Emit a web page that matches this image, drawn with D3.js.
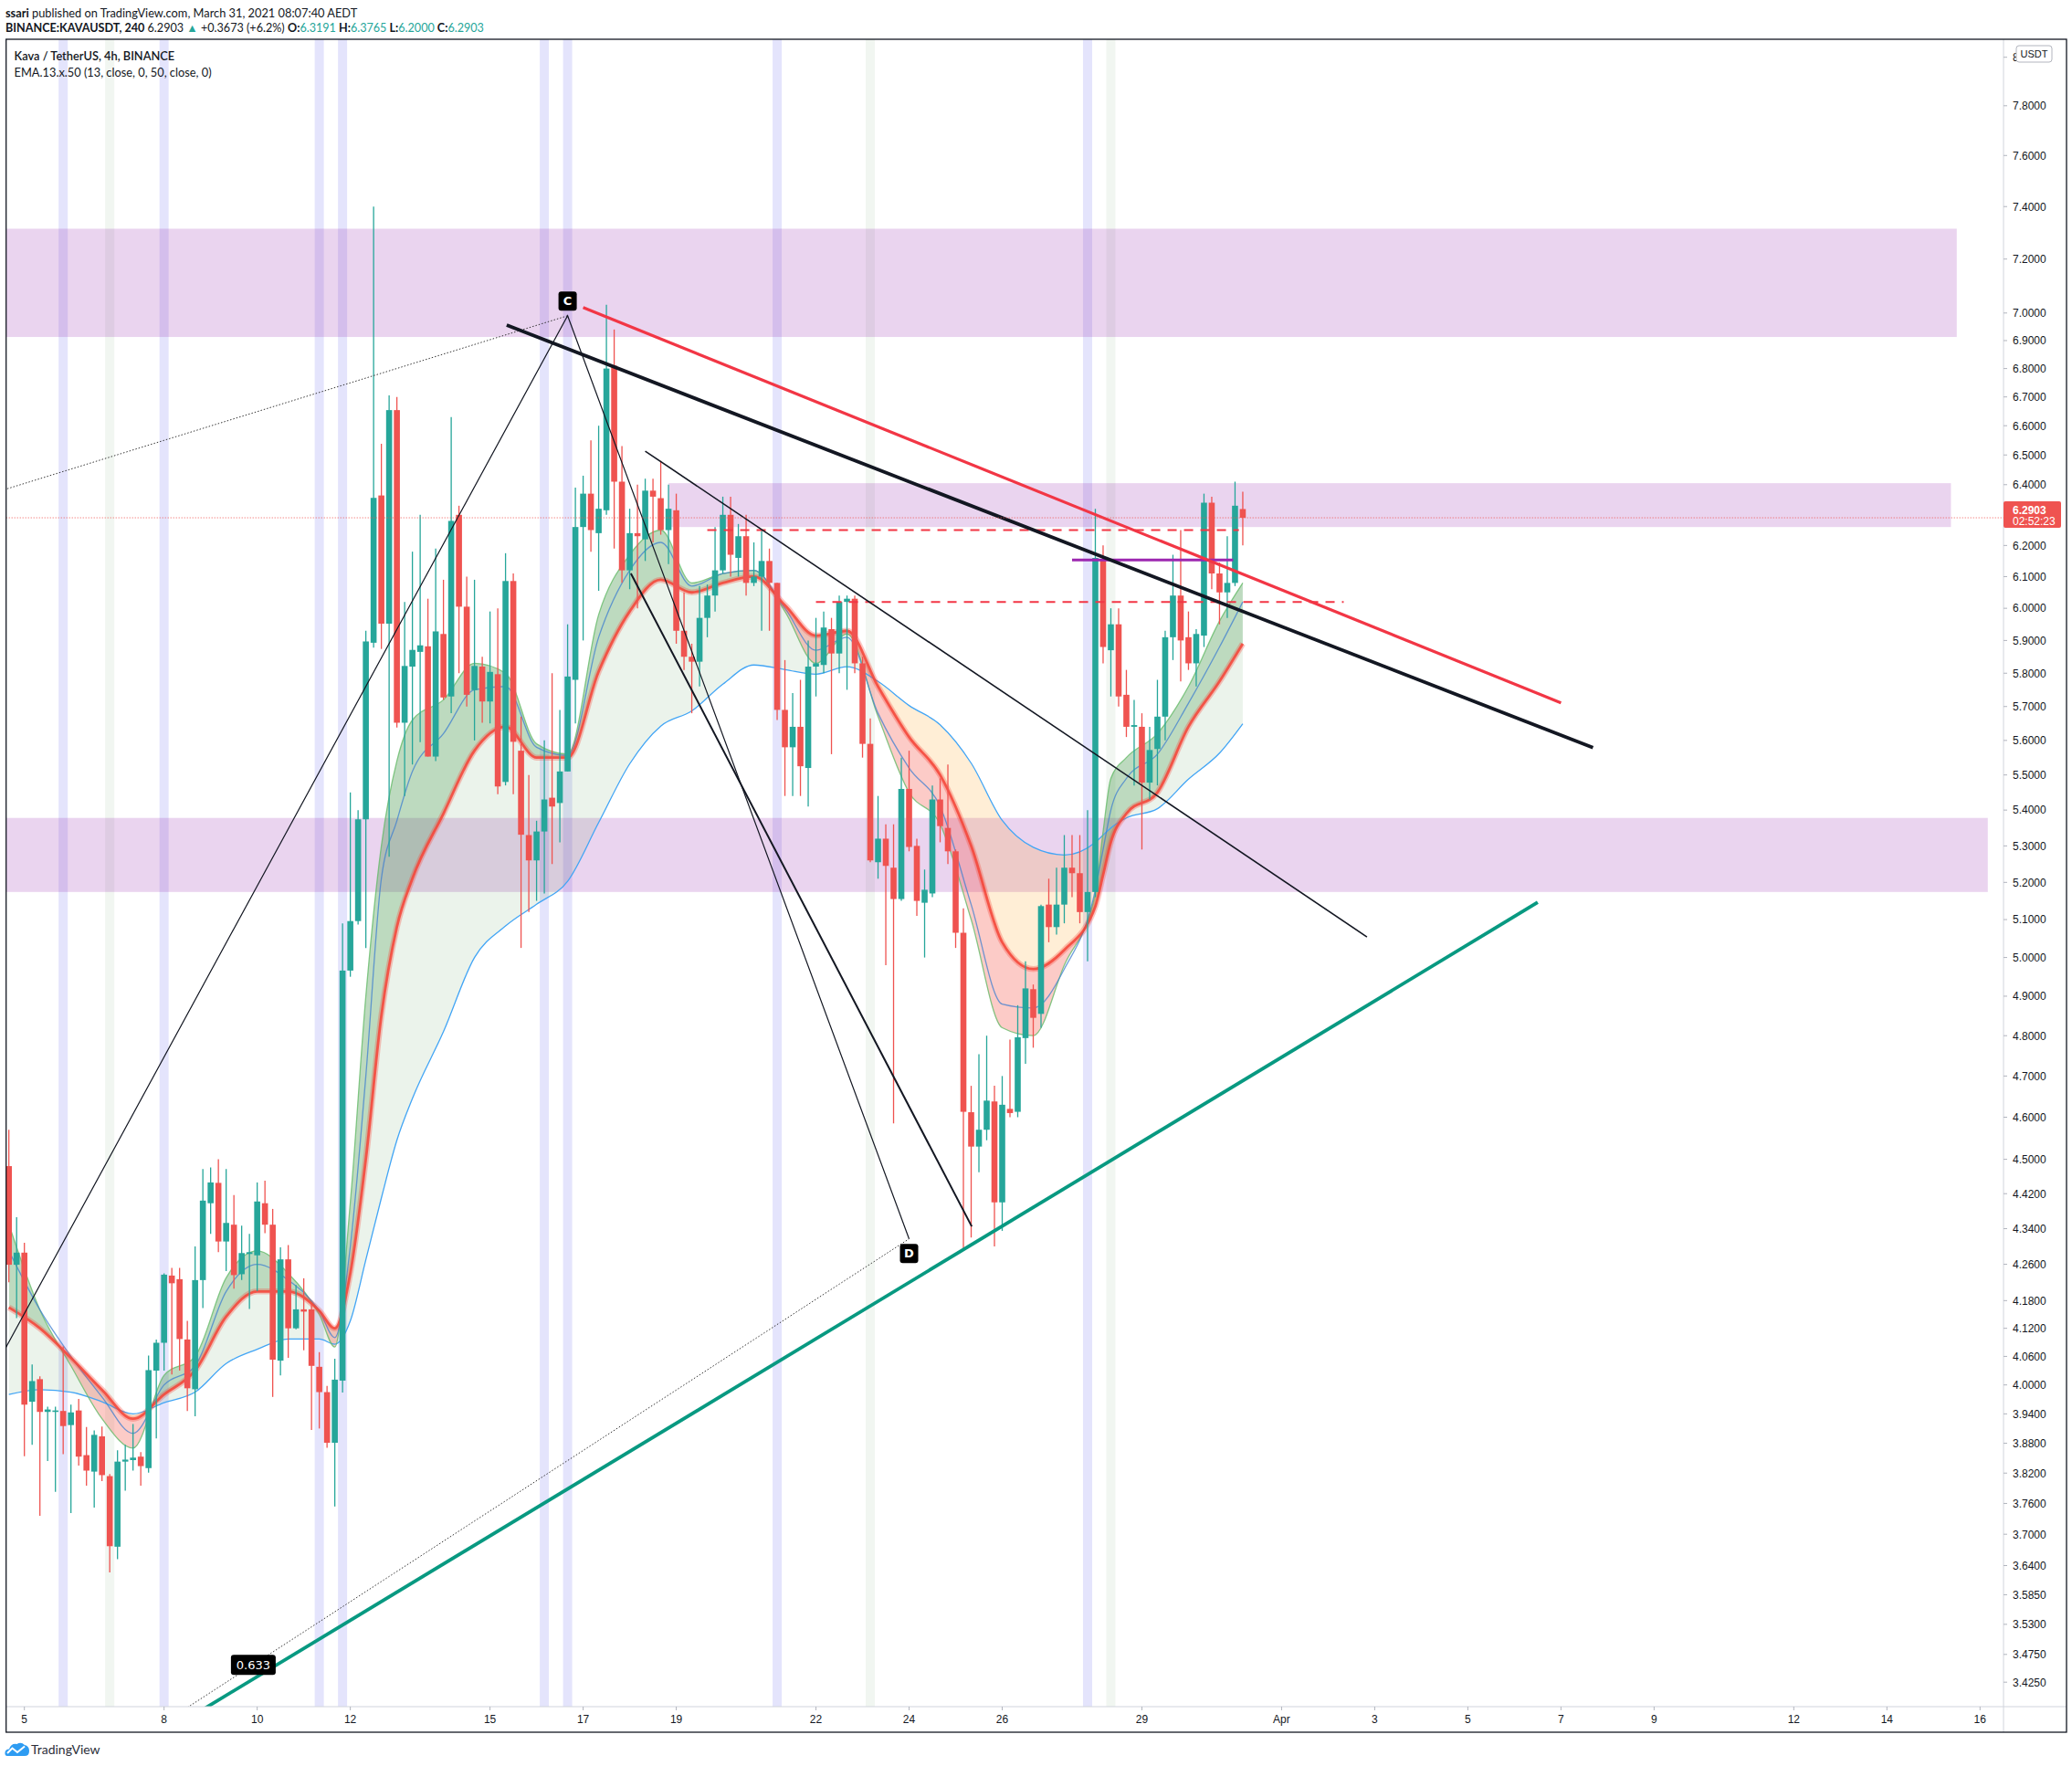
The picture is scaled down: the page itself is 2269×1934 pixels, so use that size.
<!DOCTYPE html>
<html>
<head>
<meta charset="utf-8">
<script src="https://cdn.jsdelivr.net/npm/d3@7"></script>
<style>
  body { margin: 0; background: #fff; }
  svg { display: block; }
</style>
</head>
<body>
<script>
const W = 2269, H = 1934

const T = (m, d, h = 0, mi = 0) => new Date(Date.UTC(2021, m - 1, d, h, mi))
const firstBar = T(3, 4, 16)
const barTime = i => new Date(firstBar.getTime() + i * 4 * 3600e3)

// 4h candles, BINANCE:KAVAUSDT, first bar Mar 4 16:00
const opens = [4.484,4.259,4.286,3.965,4.012,3.944,3.944,3.946,3.917,3.947,
  3.856,3.823,3.894,3.814,3.676,3.843,3.846,3.853,3.830,4.030,
  4.089,4.235,4.227,4.096,3.991,4.225,4.398,4.445,4.311,4.349,
  4.238,4.283,4.280,4.398,4.349,4.051,4.271,4.120,4.161,4.161,
  4.038,3.985,3.881,4.009,4.966,5.096,5.374,5.893,6.364,5.952,
  6.654,5.652,5.820,5.865,5.882,5.553,5.920,5.730,6.300,6.005,
  5.749,5.820,5.715,5.797,5.480,6.086,5.570,5.330,5.260,5.340,
  5.435,5.420,5.510,5.780,6.260,6.370,6.240,6.315,6.810,6.410,
  6.120,6.240,6.220,6.380,6.355,6.250,6.315,5.930,5.850,5.835,
  5.970,6.040,6.120,6.300,6.160,6.230,6.080,6.100,6.150,6.080,
  5.690,5.580,5.640,5.520,5.820,5.825,5.935,5.860,6.020,6.030,
  5.830,5.590,5.255,5.320,5.240,5.155,5.460,5.300,5.145,5.170,
  5.430,5.350,5.285,5.065,4.612,4.530,4.570,4.638,4.400,4.620,
  4.613,4.794,4.918,4.855,5.140,5.080,5.140,5.240,5.225,5.120,
  5.174,6.155,5.870,5.950,5.735,5.640,5.640,5.478,5.575,5.670,
  5.910,6.040,5.910,5.830,5.915,6.340,6.110,6.050,6.080,6.3191]
const highs = [4.57,4.366,4.308,4.043,4.018,3.955,3.955,4.081,3.959,3.971,
  3.913,3.906,3.914,3.818,3.866,3.877,3.919,3.862,4.062,4.096,
  4.240,4.252,4.252,4.136,4.300,4.477,4.481,4.500,4.477,4.417,
  4.347,4.328,4.446,4.450,4.385,4.298,4.303,4.214,4.229,4.172,
  4.069,3.998,4.055,5.090,5.450,5.400,5.930,7.400,6.538,6.705,
  6.700,6.020,6.180,6.300,6.030,6.190,6.090,6.630,6.330,6.100,
  6.090,5.850,5.990,6.000,6.175,6.110,5.670,5.500,5.370,5.600,
  5.800,5.690,5.950,6.390,6.430,6.550,6.600,7.030,6.940,6.530,
  6.320,6.400,6.420,6.420,6.480,6.400,6.370,6.050,5.890,6.070,
  6.075,6.260,6.360,6.360,6.270,6.300,6.210,6.250,6.190,6.080,
  5.840,5.740,5.780,5.900,5.970,5.990,5.970,6.040,6.040,6.040,
  5.850,5.665,5.440,5.360,5.360,5.550,5.570,5.320,5.235,5.470,
  5.490,5.530,5.290,5.130,4.676,4.754,4.800,4.676,4.700,4.790,
  4.877,4.990,4.930,5.140,5.210,5.240,5.330,5.330,5.330,5.400,
  6.320,6.200,6.000,6.000,5.810,5.720,5.680,5.640,5.780,5.930,
  6.170,6.250,5.990,5.935,6.370,6.360,6.145,6.230,6.410,6.3765]
const lows = [4.22,4.142,3.854,3.877,3.736,3.844,3.783,3.858,3.741,3.835,
  3.795,3.752,3.804,3.627,3.652,3.785,3.825,3.795,3.821,3.890,
  4.030,4.022,4.030,3.946,3.935,4.164,4.328,4.287,4.245,4.206,
  4.225,4.162,4.201,4.330,3.975,4.020,4.057,4.118,4.073,3.907,
  3.910,3.871,3.754,3.984,4.950,5.087,5.025,5.878,5.874,5.270,
  5.638,5.440,5.530,5.595,5.553,5.540,5.720,5.680,5.800,5.700,
  5.600,5.652,5.650,5.445,5.470,5.445,5.025,5.120,5.150,5.170,
  5.250,5.310,5.510,5.650,5.900,6.180,6.055,6.300,6.190,6.080,
  6.060,6.000,6.150,6.210,6.235,6.140,5.890,5.810,5.680,5.760,
  5.910,5.990,6.110,6.100,6.100,6.040,6.070,5.930,5.930,5.660,
  5.440,5.440,5.440,5.410,5.730,5.800,5.560,5.800,5.750,5.800,
  5.550,5.255,5.210,4.980,4.585,5.150,5.285,5.110,5.000,5.160,
  5.310,5.250,5.025,4.290,4.320,4.470,4.545,4.300,4.335,4.600,
  4.600,4.730,4.770,4.820,5.040,5.060,5.090,5.160,5.090,4.990,
  5.160,5.830,5.730,5.700,5.610,5.470,5.290,5.430,5.470,5.600,
  5.840,5.775,5.810,5.760,5.880,6.060,5.950,5.970,6.070,6.2000]
const closes = [4.259,4.286,3.959,4.008,3.944,3.949,3.947,3.915,3.943,3.853,
  3.825,3.897,3.816,3.677,3.843,3.847,3.851,3.834,4.031,4.089,
  4.237,4.218,4.097,3.993,4.225,4.404,4.446,4.311,4.353,4.236,
  4.285,4.287,4.402,4.349,4.053,4.271,4.120,4.161,4.156,4.040,
  3.985,3.881,4.011,4.966,5.096,5.374,5.897,6.356,5.952,6.654,
  5.652,5.822,5.871,5.885,5.553,5.928,5.727,6.280,6.005,5.735,
  5.822,5.715,5.804,5.467,6.086,5.596,5.331,5.260,5.340,5.430,
  5.410,5.510,5.790,6.260,6.370,6.250,6.320,6.800,6.410,6.120,
  6.240,6.230,6.380,6.360,6.250,6.320,5.930,5.850,5.835,5.970,
  6.040,6.120,6.300,6.170,6.230,6.080,6.100,6.150,6.080,5.690,
  5.580,5.640,5.525,5.820,5.830,5.940,5.860,6.020,6.030,5.830,
  5.590,5.260,5.320,5.245,5.155,5.460,5.297,5.150,5.180,5.430,
  5.355,5.285,5.065,4.613,4.530,4.570,4.640,4.400,4.630,4.610,
  4.796,4.920,4.845,5.136,5.080,5.140,5.240,5.225,5.120,5.174,
  6.160,5.880,5.950,5.730,5.640,5.645,5.478,5.572,5.670,5.910,
  6.040,5.900,5.830,5.920,6.340,6.110,6.050,6.080,6.330,6.2903]

// indicator lines at these bar indices
const emaIdx  = [0,4,8,12,16,20,24,28,32,36,40,42,44,46,48,50,52,56,60,64,68,72,76,80,84,88,92,96,100,104,108,112,116,120,124,128,132,136,140,141,142,144,148,152,156,159]
const emaFast = [4.35,4.16,4.04,3.93,3.87,4.02,4.06,4.23,4.29,4.24,4.15,4.08,4.40,4.90,5.30,5.54,5.66,5.72,5.83,5.80,5.59,5.56,5.98,6.17,6.25,6.08,6.11,6.12,5.99,5.83,5.92,5.67,5.45,5.36,5.10,4.82,4.80,4.98,5.17,5.34,5.49,5.55,5.62,5.76,5.96,6.08]
const emaMid  = [4.29,4.16,4.06,3.975,3.90,4.00,4.04,4.20,4.26,4.225,4.158,4.10,4.30,4.70,5.21,5.37,5.51,5.62,5.75,5.76,5.58,5.556,5.91,6.12,6.21,6.07,6.11,6.12,6.00,5.87,5.91,5.68,5.52,5.41,5.14,4.88,4.87,4.97,5.18,5.29,5.40,5.49,5.56,5.71,5.88,6.02]
const ema13   = [4.165,4.12,4.057,3.99,3.93,3.98,4.03,4.145,4.20,4.20,4.158,4.12,4.24,4.50,4.85,5.08,5.21,5.39,5.57,5.64,5.55,5.55,5.805,5.99,6.09,6.05,6.08,6.10,6.01,5.915,5.93,5.76,5.61,5.50,5.30,5.04,4.97,5.02,5.135,5.22,5.31,5.39,5.45,5.64,5.775,5.89]
const ema50   = [3.98,3.99,3.985,3.965,3.94,3.963,3.985,4.045,4.075,4.097,4.097,4.086,4.136,4.27,4.41,4.545,4.645,4.81,5.00,5.083,5.141,5.203,5.365,5.532,5.642,5.687,5.767,5.825,5.811,5.797,5.82,5.775,5.703,5.646,5.534,5.371,5.296,5.275,5.31,5.33,5.35,5.378,5.404,5.488,5.563,5.649]

// highlighted bars
const lavenderBars = [7, 20, 40, 43, 69, 72, 99, 139]
const greyBars = [13, 111, 142]

// supply / demand zones: [top, bottom, start, end]
const zoneTops    = [7.315, 6.405, 5.378]
const zoneBottoms = [6.913, 6.260, 5.174]
const zoneStarts  = [T(3, 4, 0), T(3, 18, 20), T(3, 4, 0)]
const zoneEnds    = [T(4, 15, 12), T(4, 15, 9), T(4, 16, 4)]

// drawings: [time, price]
const redTrend    = [[T(3, 17, 0), 7.02], [T(4, 7, 0), 5.711]]
const blackTrend  = [[T(3, 15, 8, 36), 6.956], [T(4, 7, 16, 30), 5.579]]
const thinTrend   = [[T(3, 18, 8), 6.513], [T(4, 2, 20), 5.054]]
const midTrend    = [[T(3, 18, 0, 36), 6.11], [T(3, 25, 8, 18), 4.345]]
const tealTrend   = [[T(3, 8, 12), 3.36], [T(4, 6, 12), 5.146]]
const patternLegs = [[T(3, 4, 12), 4.06], [T(3, 16, 16), 6.99], [T(3, 24, 0), 4.317]]
const dottedCA    = [[T(3, 4, 12), 6.38], [T(3, 16, 16), 6.99]]
const dottedBD    = [[T(3, 8, 12), 3.38], [T(3, 24, 0), 4.317]]
const ratioLabel  = [T(3, 9, 22), 3.456, '0.633']
const dashLevels  = [6.25, 6.02]
const dashStarts  = [T(3, 19, 16), T(3, 22, 0)]
const dashEnds    = [T(3, 31, 2), T(4, 2, 8)]
const purpleLevel = [[T(3, 27, 12), 6.153], [T(3, 30, 23), 6.153]]
const lastPrice = 6.2903

const yTicks = [8, 7.8, 7.6, 7.4, 7.2, 7.0, 6.9, 6.8, 6.7, 6.6, 6.5, 6.4, 6.2, 6.1, 6.0, 5.9, 5.8, 5.7, 5.6, 5.5, 5.4, 5.3, 5.2, 5.1, 5.0, 4.9, 4.8, 4.7, 4.6, 4.5, 4.42, 4.34, 4.26, 4.18, 4.12, 4.06, 4.0, 3.94, 3.88, 3.82, 3.76, 3.70, 3.64, 3.585, 3.53, 3.475, 3.425]
const xTickDates = [T(3,5), T(3,8), T(3,10), T(3,12), T(3,15), T(3,17), T(3,19), T(3,22), T(3,24), T(3,26), T(3,29), T(4,1), T(4,3), T(4,5), T(4,7), T(4,9), T(4,12), T(4,14), T(4,16)]
const xTickLabels = ['5','8','10','12','15','17','19','22','24','26','29','Apr','3','5','7','9','12','14','16']

//
// layout & scales
//
const plot = { left: 6.7, top: 43, right: 2194, bottom: 1869 }
const frame = { right: 2263, bottom: 1897 }

const x = d3.scaleUtc().domain([firstBar, T(4, 16)]).range([9.7, 2168.3])
const y = d3.scaleLog().domain([7.8, 3.425]).range([115.8, 1842.2])

const UP = '#26a69a', DOWN = '#ef5350'
const axisFont = '12px "Liberation Sans", Arial, sans-serif'

const svg = d3.select('body').append('svg')
  .attr('width', W).attr('height', H)
  .style('background', '#fff')

const defs = svg.append('defs')
defs.append('clipPath').attr('id', 'plotClip')
  .append('rect')
  .attr('x', plot.left).attr('y', plot.top)
  .attr('width', plot.right - plot.left).attr('height', plot.bottom - plot.top)

const g = svg.append('g').attr('clip-path', 'url(#plotClip)')

// highlighted bar columns
g.selectAll('.lav').data(lavenderBars).enter().append('rect')
  .attr('x', d => x(barTime(d)) - 5).attr('y', plot.top)
  .attr('width', 10).attr('height', plot.bottom - plot.top)
  .attr('fill', 'rgba(120,120,240,0.2)')
g.selectAll('.gry').data(greyBars).enter().append('rect')
  .attr('x', d => x(barTime(d)) - 5).attr('y', plot.top)
  .attr('width', 10).attr('height', plot.bottom - plot.top)
  .attr('fill', 'rgba(150,185,150,0.13)')

// zones
g.selectAll('.zone').data(zoneTops).enter().append('rect')
  .attr('x', (d, i) => x(zoneStarts[i]))
  .attr('y', d => y(d))
  .attr('width', (d, i) => x(zoneEnds[i]) - x(zoneStarts[i]))
  .attr('height', (d, i) => y(zoneBottoms[i]) - y(d))
  .attr('fill', 'rgba(149,39,176,0.2)')

// indicator
let pts = emaIdx.map((b, j) => ({ t: barTime(b), fast: emaFast[j], mid: emaMid[j], e13: ema13[j], e50: ema50[j] }))

function bandFill(a, b, upColor, downColor, id) {
  let between = d3.area().curve(d3.curveMonotoneX)
    .x(d => x(d.t)).y0(d => y(d[a])).y1(d => y(d[b]))
  let above = d3.area().curve(d3.curveMonotoneX)
    .x(d => x(d.t)).y0(plot.top - 10).y1(d => y(d[b]))
  let below = d3.area().curve(d3.curveMonotoneX)
    .x(d => x(d.t)).y0(plot.bottom + 10).y1(d => y(d[b]))
  defs.append('clipPath').attr('id', id + 'Up').append('path').attr('d', above(pts))
  defs.append('clipPath').attr('id', id + 'Dn').append('path').attr('d', below(pts))
  g.append('path').attr('d', between(pts)).attr('fill', upColor).attr('clip-path', `url(#${id}Up)`)
  g.append('path').attr('d', between(pts)).attr('fill', downColor).attr('clip-path', `url(#${id}Dn)`)
}
bandFill('e13', 'e50', 'rgba(56,142,60,0.1)', 'rgba(255,152,0,0.16)', 'slow')
bandFill('fast', 'e13', 'rgba(56,142,60,0.33)', 'rgba(244,67,54,0.28)', 'fastf')

const emaLine = key => d3.line().curve(d3.curveMonotoneX).x(d => x(d.t)).y(d => y(d[key]))
g.append('path').attr('d', emaLine('e50')(pts)).attr('fill', 'none')
  .attr('stroke', '#42a5f5').attr('stroke-width', 1.3)
g.append('path').attr('d', emaLine('fast')(pts)).attr('fill', 'none')
  .attr('stroke', '#66bb6a').attr('stroke-opacity', 0.8).attr('stroke-width', 1.3)
g.append('path').attr('d', emaLine('mid')(pts)).attr('fill', 'none')
  .attr('stroke', '#3f7fd0').attr('stroke-opacity', 0.75).attr('stroke-width', 1.3)
g.append('path').attr('d', emaLine('e13')(pts)).attr('fill', 'none')
  .attr('stroke', '#f44336').attr('stroke-opacity', 0.3).attr('stroke-width', 6.5)
g.append('path').attr('d', emaLine('e13')(pts)).attr('fill', 'none')
  .attr('stroke', '#f44336').attr('stroke-opacity', 0.85).attr('stroke-width', 2.8)

// candles
let candles = g.selectAll('.candle').data(d3.range(opens.length)).enter().append('g')
candles.append('line')
  .attr('x1', i => x(barTime(i))).attr('x2', i => x(barTime(i)))
  .attr('y1', i => y(highs[i])).attr('y2', i => y(lows[i]))
  .attr('stroke', i => closes[i] >= opens[i] ? UP : DOWN).attr('stroke-width', 1.3)
candles.append('rect')
  .attr('x', i => x(barTime(i)) - 3.3).attr('width', 6.6)
  .attr('y', i => y(Math.max(opens[i], closes[i])))
  .attr('height', i => Math.max(1.5, y(Math.min(opens[i], closes[i])) - y(Math.max(opens[i], closes[i]))))
  .attr('fill', i => closes[i] >= opens[i] ? UP : DOWN)

// drawings
const seg = (p, color, width, dash) => g.append('line')
  .attr('x1', x(p[0][0])).attr('y1', y(p[0][1]))
  .attr('x2', x(p[1][0])).attr('y2', y(p[1][1]))
  .attr('stroke', color).attr('stroke-width', width)
  .attr('stroke-dasharray', dash || null)

dashLevels.forEach((lv, i) => seg([[dashStarts[i], lv], [dashEnds[i], lv]], '#f23645', 2, '10,8'))
seg(purpleLevel, '#9c27b0', 3)
seg(tealTrend, '#089981', 3.8)
seg(dottedCA, '#333', 1, '1.5,2')
seg(dottedBD, '#333', 1, '1.5,2')
g.append('path')
  .attr('d', d3.line().x(d => x(d[0])).y(d => y(d[1]))(patternLegs))
  .attr('fill', 'none').attr('stroke', '#131722').attr('stroke-width', 1.2)
seg(midTrend, '#131722', 2)
seg(thinTrend, '#131722', 1.6)
seg(blackTrend, '#131722', 3.8)
seg(redTrend, '#f23645', 3.2)

// last price line
g.append('line')
  .attr('x1', plot.left).attr('x2', plot.right)
  .attr('y1', y(lastPrice)).attr('y2', y(lastPrice))
  .attr('stroke', '#ef5350').attr('stroke-width', 1).attr('stroke-dasharray', '1,2')

// point labels
function tag(cx, cy, w, h, text, font) {
  g.append('rect').attr('x', cx - w / 2).attr('y', cy - h / 2)
    .attr('width', w).attr('height', h).attr('rx', 3).attr('fill', '#000')
  g.append('text').attr('x', cx).attr('y', cy).attr('dy', '0.36em')
    .attr('text-anchor', 'middle').attr('fill', '#fff').style('font', font)
    .text(text)
}
let C = patternLegs[1], D = patternLegs[2]
tag(x(C[0]), y(C[1]) - 16, 20, 21, 'C', 'bold 13px "DejaVu Sans", sans-serif')
tag(x(D[0]), y(D[1]) + 16, 20, 21, 'D', 'bold 13px "DejaVu Sans", sans-serif')
tag(x(ratioLabel[0]), y(ratioLabel[1]), 49, 22, ratioLabel[2], '13px "DejaVu Sans", sans-serif')

//
// axes
//
svg.append('line').attr('x1', plot.right).attr('x2', plot.right)
  .attr('y1', plot.top).attr('y2', frame.bottom)
  .attr('stroke', '#d1d4dc')
svg.append('line').attr('x1', plot.left).attr('x2', frame.right)
  .attr('y1', plot.bottom).attr('y2', plot.bottom)
  .attr('stroke', '#d1d4dc')

let yAxis = svg.append('g')
yAxis.selectAll('line').data(yTicks).enter().append('line')
  .attr('x1', plot.right).attr('x2', plot.right + 4)
  .attr('y1', d => y(d)).attr('y2', d => y(d))
  .attr('stroke', '#b2b5be')
yAxis.selectAll('text').data(yTicks).enter().append('text')
  .attr('x', plot.right + 10).attr('y', d => y(d)).attr('dy', '0.36em')
  .attr('fill', '#131722').style('font', axisFont)
  .text(d3.format('.4f'))

let xAxis = svg.append('g')
xAxis.selectAll('line').data(xTickDates).enter().append('line')
  .attr('x1', d => x(d)).attr('x2', d => x(d))
  .attr('y1', plot.bottom).attr('y2', plot.bottom + 4)
  .attr('stroke', '#b2b5be')
xAxis.selectAll('text').data(xTickDates).enter().append('text')
  .attr('x', d => x(d)).attr('y', plot.bottom + 14).attr('dy', '0.36em')
  .attr('text-anchor', 'middle').attr('fill', '#131722').style('font', axisFont)
  .text((d, i) => xTickLabels[i])

// last price tag
let py = y(lastPrice)
svg.append('rect').attr('x', plot.right).attr('y', py - 18).attr('width', 63).attr('height', 29)
  .attr('rx', 2).attr('fill', '#ef5350')
svg.append('text').attr('x', plot.right + 10).attr('y', py - 4)
  .attr('fill', '#fff').style('font', 'bold 12px "Liberation Sans", Arial, sans-serif').text('6.2903')
svg.append('text').attr('x', plot.right + 10).attr('y', py + 8)
  .attr('fill', '#fff').style('font', '12px "Liberation Sans", Arial, sans-serif').text('02:52:23')

// currency box
svg.append('rect').attr('x', 2208).attr('y', 50).attr('width', 39).attr('height', 18)
  .attr('rx', 3).attr('fill', '#fff').attr('stroke', '#b2b5be')
svg.append('text').attr('x', 2227.5).attr('y', 59).attr('dy', '0.36em').attr('text-anchor', 'middle')
  .attr('fill', '#131722').style('font', '11px "Liberation Sans", Arial, sans-serif').text('USDT')

// frame
svg.append('rect').attr('x', plot.left).attr('y', plot.top)
  .attr('width', frame.right - plot.left).attr('height', frame.bottom - plot.top)
  .attr('fill', 'none').attr('stroke', '#131722').attr('stroke-width', 1.3)

//
// texts
//
const hFont = '12.8px Lato, "Noto Sans", sans-serif'
let h1 = svg.append('text').attr('x', 6).attr('y', 18.5).attr('fill', '#131722').style('font', hFont)
h1.append('tspan').style('font-weight', 700).text('ssari')
h1.append('tspan').text(' published on TradingView.com, March 31, 2021 08:07:40 AEDT')

let h2 = svg.append('text').attr('x', 6).attr('y', 34.5).attr('fill', '#131722').style('font', '12.6px Lato, "Noto Sans", sans-serif')
const parts = [
  ['BINANCE:KAVAUSDT, 240', 700, '#131722'], [' 6.2903 ', 400, '#131722'], ['▲', 400, UP],
  [' +0.3673 (+6.2%) ', 400, '#131722'],
  ['O:', 700, '#131722'], ['6.3191', 400, UP], [' H:', 700, '#131722'], ['6.3765', 400, UP],
  [' L:', 700, '#131722'], ['6.2000', 400, UP], [' C:', 700, '#131722'], ['6.2903', 400, UP]]
parts.forEach(p => h2.append('tspan').style('font-weight', p[1]).attr('fill', p[2]).text(p[0]))

svg.append('text').attr('x', 15.6).attr('y', 65.5).attr('fill', '#131722')
  .style('font', '600 12.8px Lato, "Noto Sans", sans-serif').text('Kava / TetherUS, 4h, BINANCE')
svg.append('text').attr('x', 15.6).attr('y', 84).attr('fill', '#131722')
  .style('font', hFont).text('EMA.13.x.50 (13, close, 0, 50, close, 0)')

// footer
let logo = svg.append('g')
logo.append('path')
  .attr('d', 'M8,1923 Q5,1923 5.5,1919 Q6,1915.5 10,1915.5 Q12,1909 18.5,1910 Q23,1907 27,1911 Q32,1912 32,1917.5 Q32,1923 27,1923 Z')
  .attr('fill', '#2e9cf2')
logo.append('polyline').attr('points', '8,1920 13.5,1914.5 19,1919 27,1912.5')
  .attr('fill', 'none').attr('stroke', '#fff').attr('stroke-width', 2)
svg.append('text').attr('x', 34).attr('y', 1920.5).attr('fill', '#2a2e39')
  .style('font', '14px Lato, "Noto Sans", sans-serif').text('TradingView')
</script>
</body>
</html>
